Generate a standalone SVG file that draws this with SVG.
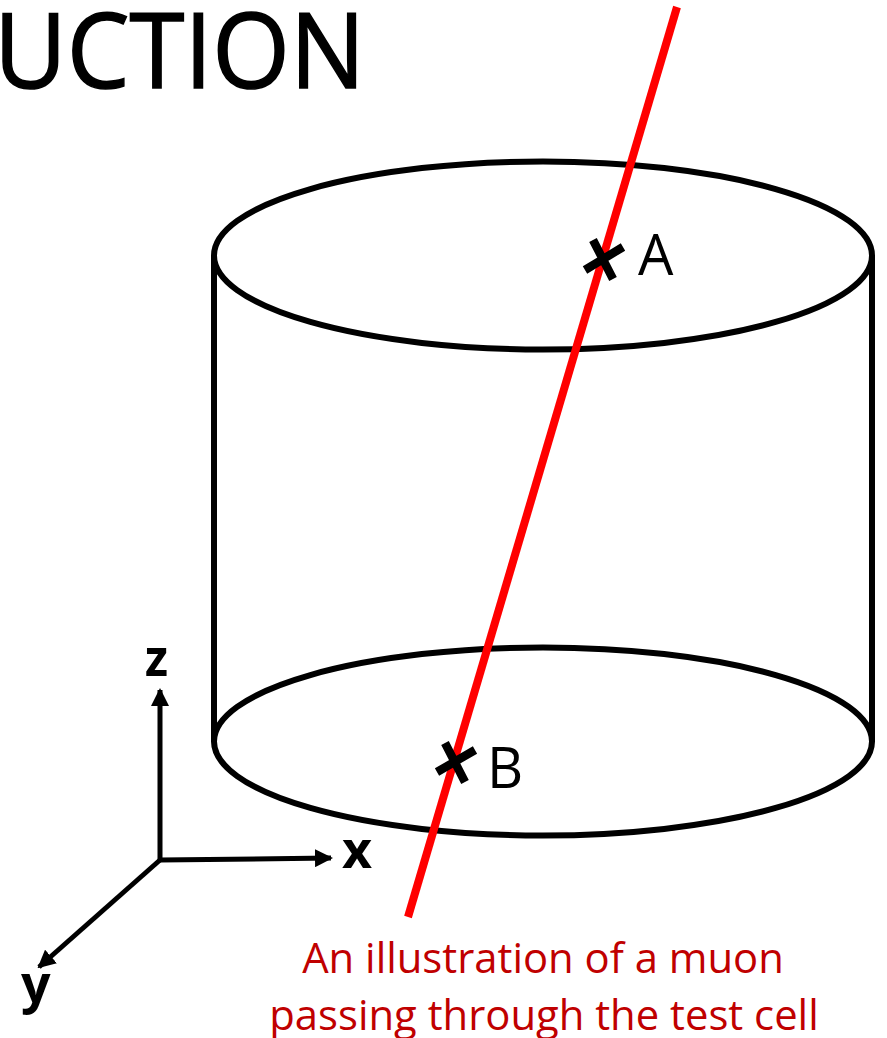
<svg xmlns="http://www.w3.org/2000/svg" width="887" height="1038" viewBox="0 0 887 1038">
<defs><marker id="a" markerUnits="userSpaceOnUse" markerWidth="18" markerHeight="18" refX="16" refY="9" orient="auto"><path d="M0 0L18 9L0 18z" fill="#000"/></marker></defs>
<style>
.c{fill:none;stroke:#000;stroke-width:6}
.x{fill:none;stroke:#000;stroke-width:8.5}
.ax{fill:none;stroke:#000;stroke-width:5;marker-end:url(#a)}
text{font-family:"Open Sans","Noto Sans",sans-serif}
.l{font-size:56px;fill:#000}
.b{font-size:52px;font-weight:700;fill:#000}
.r{font-size:41.8px;fill:#c00000;text-anchor:middle}
</style>
<rect width="887" height="1038" fill="#fff"/>
<text x="-6" y="88" font-size="105" fill="#000" stroke="#000" stroke-width="1.5" textLength="371" lengthAdjust="spacingAndGlyphs">UCTION</text>
<g id="cylinder">
<ellipse class="c" cx="543" cy="255.5" rx="329" ry="94"/>
<ellipse class="c" cx="543" cy="741.5" rx="329" ry="94"/>
<path class="c" d="M214 255.5V741.5M872 255.5V741.5"/>
</g>
<g id="connectors">
<path d="M677 7L408 917" fill="none" stroke="#f00" stroke-width="8"/>
<path class="ax" d="M160 860V690"/>
<path class="ax" d="M160 860L331 858"/>
<path class="ax" d="M160 860L39 967"/>
</g>
<g id="point-a"><path class="x" d="M593 240L613 279M585 270L623 247"/><text class="l" x="638" y="275">A</text></g>
<g id="point-b"><path class="x" d="M445 743L465 782M437 772L475 750"/><text class="l" x="487" y="788">B</text></g>
<g id="axis-labels">
<text class="b" x="145" y="676" textLength="23" lengthAdjust="spacingAndGlyphs">z</text>
<text class="b" x="342" y="868">x</text>
<text class="b" x="21" y="1002">y</text>
</g>
<g id="caption">
<text class="r" x="543" y="973">An illustration of a muon</text>
<text class="r" x="544" y="1030">passing through the test cell</text>
</g>
</svg>
